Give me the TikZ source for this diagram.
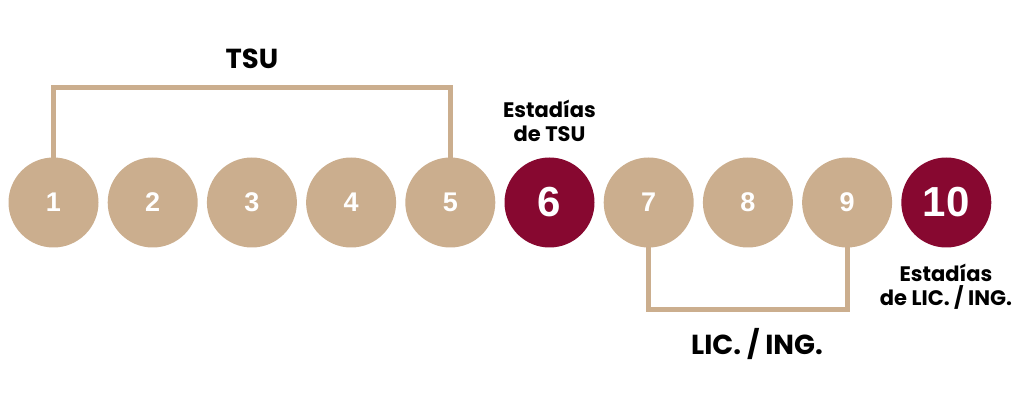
\documentclass[tikz,border=0pt]{standalone}
\usepackage{fontspec}
\setmainfont{Poppins}
\newfontfamily\numfont{Liberation Sans}
\usetikzlibrary{backgrounds}
\definecolor{tan}{RGB}{203,174,142}
\definecolor{maroon}{RGB}{135,8,48}
\tikzset{
  x=1pt, y=-1pt,
  sem/.style={circle, fill=tan, minimum size=90pt, inner sep=0pt, text=white, font=\numfont\bfseries\fontsize{27}{30}\selectfont},
  est/.style={circle, fill=maroon, minimum size=90pt, inner sep=0pt, text=white, font=\numfont\bfseries\fontsize{42}{44}\selectfont},
  bracket/.style={draw=tan, line width=5pt},
  biglabel/.style={font=\bfseries\fontsize{27.5}{30}\selectfont, text=black, inner sep=0pt},
  smalllabel/.style={font=\bfseries\fontsize{21}{24}\selectfont, text=black, align=center, inner sep=0pt},
}
\begin{document}
\begin{tikzpicture}
\useasboundingbox (0,0) rectangle (1024,419);
\node[sem] (c1) at (53.5,202.5) {1};
\node[sem] (c2) at (152.7,202.5) {2};
\node[sem] (c3) at (251.9,202.5) {3};
\node[sem] (c4) at (351.1,202.5) {4};
\node[sem] (c5) at (450.3,202.5) {5};
\node[est] (c6) at (549.5,202.5) {6};
\node[sem] (c7) at (648.7,202.5) {7};
\node[sem] (c8) at (747.9,202.5) {8};
\node[sem] (c9) at (847.1,202.5) {9};
\node[est] (c10) at (946.3,202.5) {10};
\coordinate (topY) at (0,88);
\coordinate (botY) at (0,309);
\begin{scope}[on background layer]
\draw[bracket] (c1.center) -- (c1 |- topY) -- (c5 |- topY) -- (c5.center);
\draw[bracket] (c7.center) -- (c7 |- botY) -- (c9 |- botY) -- (c9.center);
\end{scope}
\node[biglabel] (tsu) at (251.9,59) {TSU};
\node[biglabel] (lic) at (757,344) {LIC. / ING.};
\node[smalllabel] (e6) at (549.5,121) {Estadías\\de TSU};
\node[smalllabel] (e10) at (946,287) {Estadías\\de LIC. / ING.};
\end{tikzpicture}
\end{document}
